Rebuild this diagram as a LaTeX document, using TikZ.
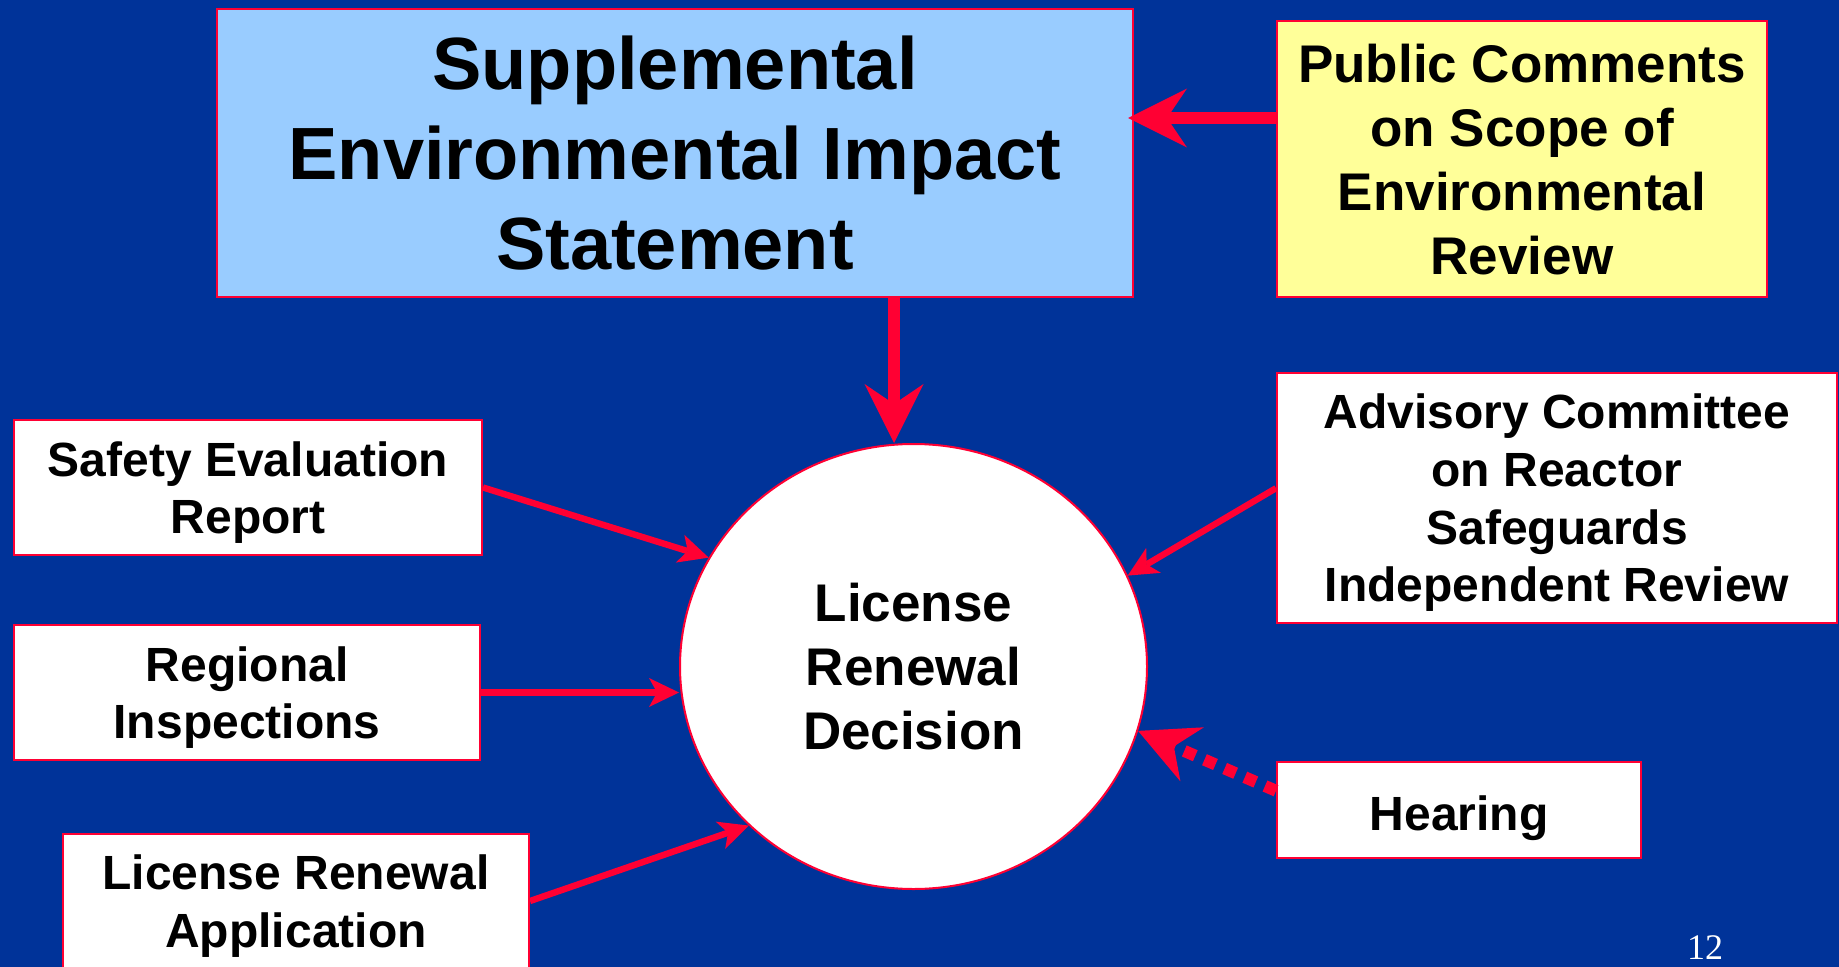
\documentclass[tikz,border=0pt]{standalone}
\usepackage{fontspec}
\setmainfont{Liberation Sans}
\newfontfamily\PageNumFont{Liberation Serif}
\usetikzlibrary{arrows.meta, shapes.geometric, calc}
\definecolor{slideblue}{HTML}{003399}
\definecolor{linkred}{HTML}{FF0033}
\definecolor{seisblue}{HTML}{99CCFF}
\definecolor{noteyellow}{HTML}{FFFF99}
\newcommand{\TitleFont}{\fontsize{37}{45}\selectfont\bfseries}
\newcommand{\MidFont}{\fontsize{26.5}{32}\selectfont\bfseries}
\newcommand{\BoxFont}{\fontsize{24}{28.8}\selectfont\bfseries}
\tikzset{
    box/.style={rectangle, draw=linkred, line width=1pt, fill=white, inner sep=0pt, align=center, font=\BoxFont, text depth=0pt},
    hub/.style={ellipse, draw=linkred, line width=1pt, fill=white, inner sep=0pt, align=center, font=\MidFont, text depth=-2.4pt},
    bigarrow/.style={draw=linkred, line width=6pt, -{Stealth[length=29.5pt, width=29.5pt, inset=10pt, line width=0pt]}},
    smallarrow/.style={draw=linkred, line width=3.2pt, -{Stealth[length=15pt, width=14.5pt, inset=4pt, line width=0pt]}},
    dotarrow/.style={bigarrow, dash pattern=on 6pt off 5pt},
}
\begin{document}
\begin{tikzpicture}
    \tikzset{x=0.5pt, y=-0.5pt}

    \fill[slideblue] (0,0) rectangle (1839,967);
    \useasboundingbox (0,0) rectangle (1839,967);

    \node[box, fill=seisblue, minimum width=458pt, minimum height=144pt, font=\TitleFont, text depth=-1.8pt] (seis) at (675,153) {Supplemental\\Environmental Impact\\Statement};
    \node[box, fill=noteyellow, minimum width=245pt, minimum height=138pt, font=\MidFont, text depth=-2.4pt] (public) at (1522,159) {Public Comments\\on Scope of\\Environmental\\Review};

    \node[hub, minimum width=233.5pt, minimum height=222.5pt] (decision) at (913.5,666.5) {License\\Renewal\\Decision};

    \node[box, minimum width=234pt, minimum height=67.5pt] (safety) at (248,487.5) {Safety Evaluation\\Report};
    \node[box, minimum width=233pt, minimum height=67.5pt] (regional) at (247,692.5) {Regional\\Inspections};
    \node[box, minimum width=233pt, minimum height=67pt] (application) at (296,901) {License Renewal\\Application};

    \node[box, minimum width=280pt, minimum height=125pt, text depth=-1pt] (acrs) at (1557,498) {Advisory Committee\\on Reactor\\Safeguards\\Independent Review};
    \node[box, minimum width=182pt, minimum height=48pt, text height=20.2pt] (hearing) at (1459,810) {Hearing};

    \node[text=white, font=\PageNumFont\fontsize{18}{20}\selectfont, anchor=base, inner sep=0pt] (pageno) at (1705,959) {12};

    \draw[bigarrow, shorten >=-3pt] ([yshift=20.5pt]public.west) -- ([yshift=20.5pt]public.west -| seis.east);
    \draw[bigarrow] ([xshift=-9.75pt]decision.north |- seis.south) -- ([xshift=-9.75pt]decision.north);

    \draw[smallarrow] (safety.east) -- (decision.152);
    \draw[smallarrow] (regional.east) -- (regional.east -| decision.west);
    \draw[smallarrow] (application.east) -- (decision.224);
    \draw[smallarrow] (acrs.178) -- (decision.23);
    \draw[dotarrow] (hearing.174) -- (decision.344);
\end{tikzpicture}
\end{document}
